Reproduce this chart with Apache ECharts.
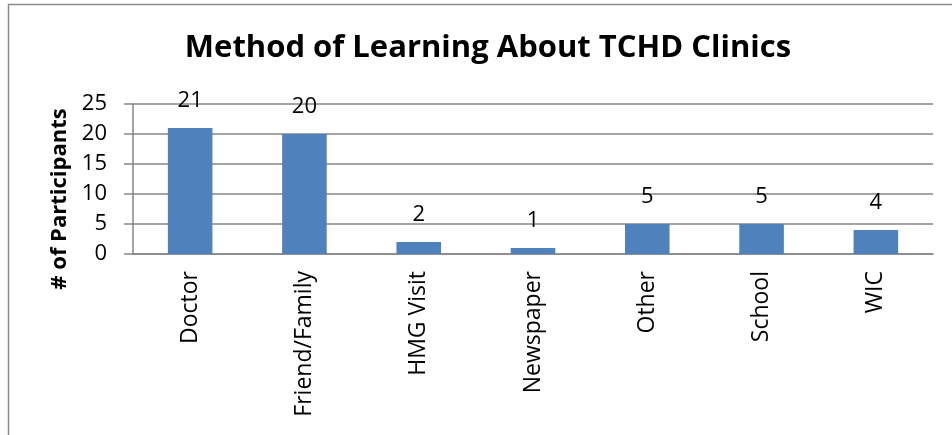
<!DOCTYPE html>
<html>
<head>
<meta charset="utf-8">
<script src="https://cdn.jsdelivr.net/npm/echarts@6/dist/echarts.min.js"></script>
<style>
  html, body { margin: 0; padding: 0; background: #fff; }
  #main { width: 952px; height: 435px; }
</style>
</head>
<body>
<div id="main"></div>
<script>
const categories = ["Doctor", "Friend/Family", "HMG Visit", "Newspaper", "Other", "School", "WIC"];
const participants = [21, 20, 2, 1, 5, 5, 4];

const font = "'Open Sans', 'Noto Sans', sans-serif";
const gray = "#868686";

const myChart = echarts.init(document.getElementById("main"));
const option = {
  animation: false,
  textStyle: { fontFamily: font },
  title: {
    text: "Method of Learning About TCHD Clinics",
    left: 483,
    textAlign: "center",
    top: 28,
    textStyle: { fontFamily: font, fontSize: 31, fontWeight: "bold", color: "#000" },
  },
  graphic: [
    {
      type: "rect",
      shape: { x: 8.5, y: 4.5, width: 1000, height: 1000 },
      style: { fill: null, stroke: "#8c8c8c", lineWidth: 1.5 },
      silent: true,
    },
  ],
  grid: { left: 133, right: 19, top: 104, bottom: 181 },
  xAxis: {
    type: "category",
    data: categories,
    axisLine: { lineStyle: { color: gray, width: 1.5 } },
    axisTick: { length: 7, lineStyle: { color: gray, width: 1.5 } },
    axisLabel: { rotate: 90, margin: 17, fontSize: 23, color: "#000", fontFamily: font },
  },
  yAxis: {
    type: "value",
    min: 0,
    max: 25,
    interval: 5,
    name: "# of Participants",
    nameLocation: "middle",
    nameGap: 62,
    nameTextStyle: {
      fontFamily: font, fontSize: 22, fontWeight: "bold", color: "#000",
      padding: [0, 40, 0, 0],
    },
    axisLine: { show: true, lineStyle: { color: gray, width: 1.5 } },
    axisTick: { show: true, length: 9, lineStyle: { color: gray, width: 1.5 } },
    axisLabel: { margin: 26, fontSize: 22, color: "#000", fontFamily: font },
    splitLine: { lineStyle: { color: gray, width: 1.5 } },
  },
  series: [
    {
      type: "bar",
      data: participants,
      barWidth: "39%",
      itemStyle: { color: "#4F81BD" },
      label: { show: true, position: "top", distance: 16, fontSize: 22, color: "#000", fontFamily: font },
    },
  ],
};
myChart.setOption(option);
</script>
</body>
</html>
